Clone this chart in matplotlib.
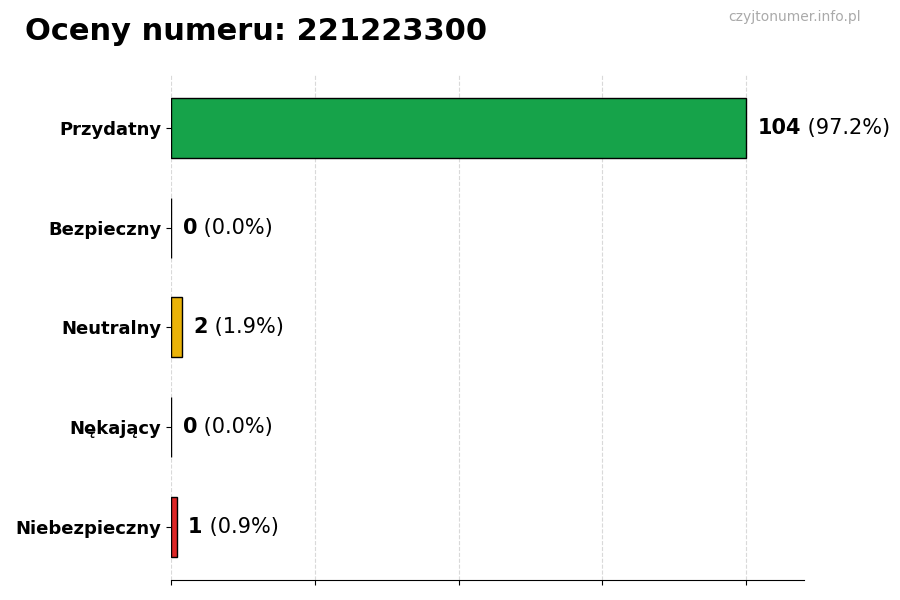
import matplotlib.pyplot as plt

categories = ['Przydatny', 'Bezpieczny', 'Neutralny', 'Nękający', 'Niebezpieczny']
counts = [104, 0, 2, 0, 1]
colors = ['#16a34a', '#2563eb', '#eab308', '#f97316', '#dc2626']
title = 'Oceny numeru: 221223300'
watermark = 'czyjtonumer.info.pl'

total = sum(counts)

fig = plt.figure(figsize=(9, 6), dpi=100)
ax = fig.add_axes([0.19, 0.0333, 0.703, 0.842])

ypos = list(range(len(categories)))
ax.barh(ypos, counts, height=0.6, color=colors, edgecolor='black', linewidth=1, zorder=2)
ax.set_yticks(ypos)
ax.set_yticklabels(categories, fontsize=13, fontweight='bold')
ax.invert_yaxis()

ax.set_xlim(0, max(counts) * 1.1)
ax.set_xticks([0, 26, 52, 78, 104])
ax.set_xticklabels([])
ax.grid(axis='x', linestyle='--', color='#d9d9d9', linewidth=0.8, zorder=0)
ax.set_axisbelow(True)

for s in ['top', 'right', 'left']:
    ax.spines[s].set_visible(False)

# value labels: bold count, then percentage
off = max(counts) * 0.02
for y, c in zip(ypos, counts):
    t = ax.text(c + off, y, str(c), fontsize=15, fontweight='bold', va='center', ha='left')
    fig.canvas.draw()
    bb = t.get_window_extent().transformed(ax.transData.inverted())
    ax.text(bb.x1, y, f' ({c / total * 100:.1f}%)', fontsize=15, va='center', ha='left')

fig.text(0.028, 0.948, title, fontsize=22, fontweight='bold', va='center', ha='left')
fig.text(0.956, 0.971, watermark, fontsize=10, color='#aaaaaa', va='center', ha='right')

fig.savefig('out.png', dpi=100)
